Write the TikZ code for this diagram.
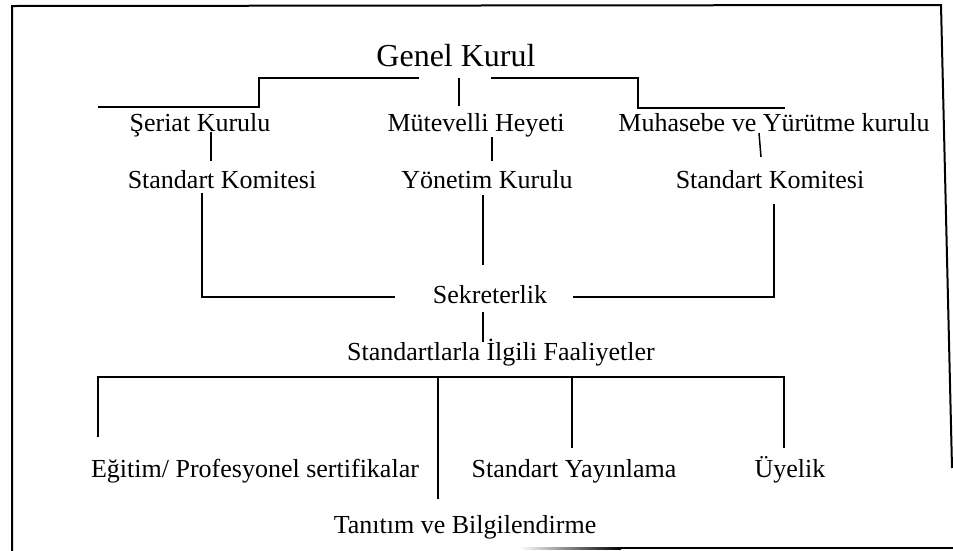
\documentclass[tikz,border=0pt]{standalone}
\usepackage{fontspec}
\setmainfont{Liberation Serif}
\begin{document}
\begin{tikzpicture}[x=1pt,y=-1pt,
  lbl/.style={anchor=base,inner sep=0pt,font=\fontsize{26}{30}\selectfont},
  big/.style={anchor=base,inner sep=0pt,font=\fontsize{32}{36}\selectfont},
  conn/.style={line width=1.5pt,line cap=butt},
  frame/.style={line width=2pt}]
\useasboundingbox (0,0) rectangle (953,550);
% frame
\coordinate (f1) at (12,551);
\coordinate (f2) at (12,6);
\coordinate (f3) at (941,5);
\coordinate (f4) at (952,468);
\coordinate (f5) at (620,548);
\coordinate (f6) at (953,548);
\draw[frame] (f1) -- (f2) -- (f3) -- (f4);
\draw[frame] (f5) -- (f6);
\shade[left color=white,right color=black] (520,547) rectangle (621,549);
% texts
\node[big] (gk) at (456,66) {Genel Kurul};
\node[lbl] (sk) at (200,131) {Şeriat Kurulu};
\node[lbl] (mh) at (476,131) {Mütevelli Heyeti};
\node[lbl] (my) at (774,131) {Muhasebe ve Yürütme kurulu};
\node[lbl] (sk1) at (222,188) {Standart Komitesi};
\node[lbl] (yk) at (487,188) {Yönetim Kurulu};
\node[lbl] (sk2) at (770,188) {Standart Komitesi};
\node[lbl] (sek) at (490,303) {Sekreterlik};
\node[lbl] (sif) at (501,360) {Standartlarla İlgili Faaliyetler};
\node[lbl] (egt) at (255,477) {Eğitim/ Profesyonel sertifikalar};
\node[lbl] (sy) at (574,477) {Standart Yayınlama};
\node[lbl] (uy) at (790,477) {Üyelik};
\node[lbl] (tb) at (465,533) {Tanıtım ve Bilgilendirme};
% connector points
\coordinate (a1) at (98,107);
\coordinate (a2) at (259,107);
\coordinate (a3) at (259,78);
\coordinate (a4) at (419,78);
\coordinate (a5) at (491,78);
\coordinate (a6) at (638,78);
\coordinate (a7) at (638,108);
\coordinate (a8) at (785,108);
\coordinate (m1) at (459,78);
\coordinate (m2) at (459,106);
\draw[conn] (a1) -- (a2) -- (a3) -- (a4);
\draw[conn] (a5) -- (a6) -- (a7) -- (a8);
\draw[conn] (m1) -- (m2);
% row2 -> row3
\coordinate (b1) at (211,132);
\coordinate (b2) at (211,161);
\coordinate (b3) at (492,137);
\coordinate (b4) at (492,161);
\coordinate (b5) at (759,133);
\coordinate (b6) at (761,157);
\draw[conn] (b1) -- (b2);
\draw[conn] (b3) -- (b4);
\draw[conn] (b5) -- (b6);
% row3 -> Sekreterlik
\coordinate (c1) at (202,193);
\coordinate (c2) at (202,297);
\coordinate (c3) at (395,297);
\coordinate (c4) at (483,195);
\coordinate (c5) at (483,265);
\coordinate (c6) at (774,204);
\coordinate (c7) at (774,297);
\coordinate (c8) at (573,297);
\draw[conn] (c1) -- (c2) -- (c3);
\draw[conn] (c4) -- (c5);
\draw[conn] (c6) -- (c7) -- (c8);
% Sekreterlik -> Faaliyetler
\coordinate (d1) at (483,312);
\coordinate (d2) at (483,342);
\draw[conn] (d1) -- (d2);
% bottom bus
\coordinate (e1) at (98,437);
\coordinate (e2) at (98,377);
\coordinate (e3) at (784,377);
\coordinate (e4) at (784,448);
\coordinate (g1) at (438,377);
\coordinate (g2) at (438,499);
\coordinate (h1) at (572,377);
\coordinate (h2) at (572,448);
\draw[conn] (e1) -- (e2) -- (e3) -- (e4);
\draw[conn] (g1) -- (g2);
\draw[conn] (h1) -- (h2);
\end{tikzpicture}
\end{document}
